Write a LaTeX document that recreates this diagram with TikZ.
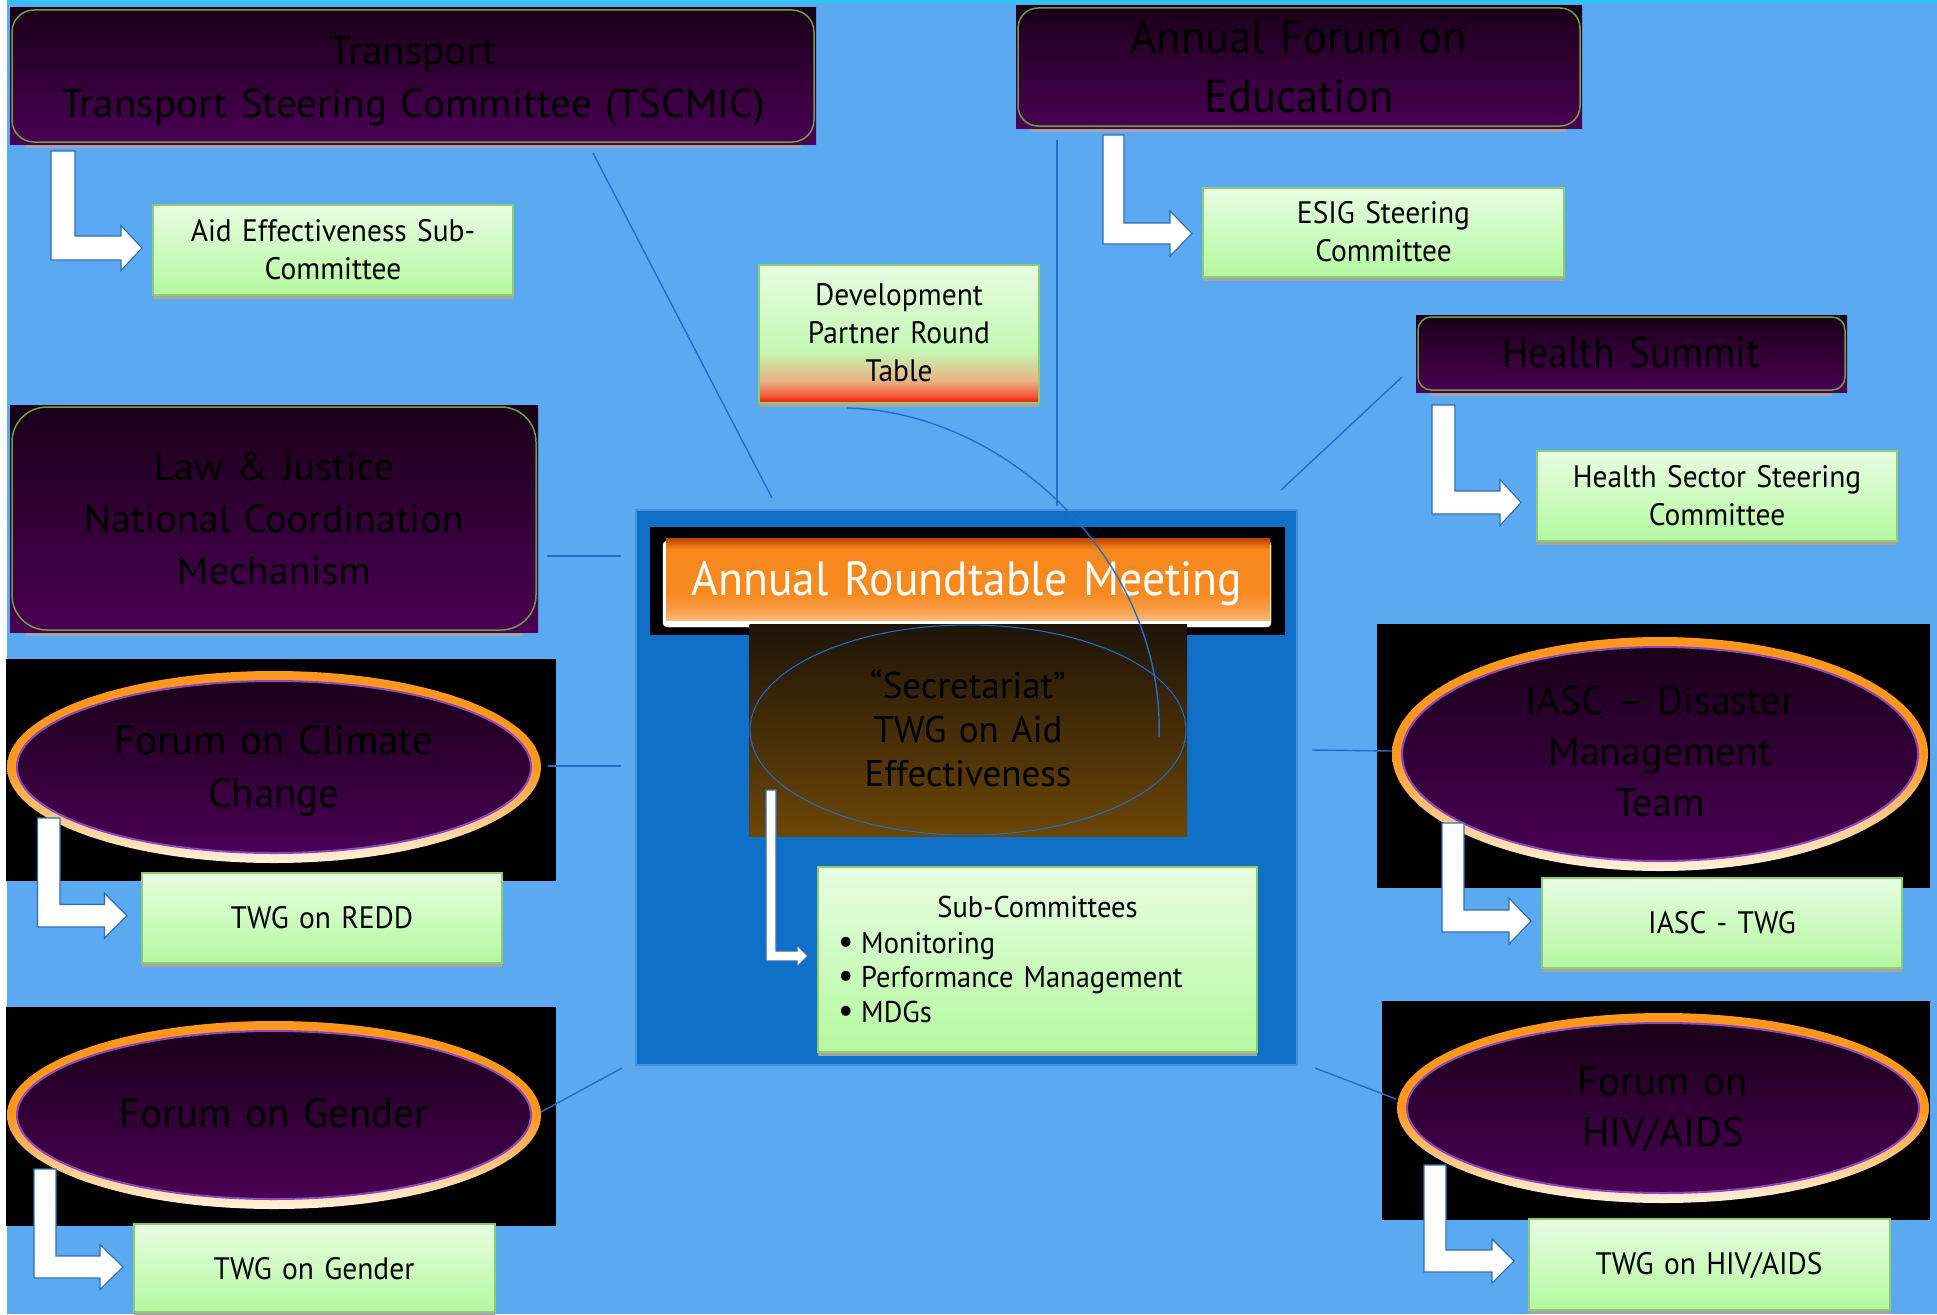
\documentclass[tikz,border=0pt]{standalone}
\usepackage{fontspec}
\setmainfont{PT Sans}
\newfontfamily\nar{PT Sans}[FakeStretch=0.95]
\newfontfamily\narr{PT Sans}[FakeStretch=0.92]
\newfontfamily\wid{PT Sans}[FakeStretch=1.03]
\usetikzlibrary{shapes.geometric}

\definecolor{bgblue}{RGB}{91,169,240}
\definecolor{topstrip}{RGB}{40,200,245}
\definecolor{panelblue}{RGB}{16,111,198}
\definecolor{paneledge}{RGB}{70,145,220}
\definecolor{purpT}{RGB}{26,0,24}
\definecolor{purpB}{RGB}{74,0,84}
\definecolor{pedge}{RGB}{112,160,64}
\definecolor{greenT}{RGB}{232,253,226}
\definecolor{greenB}{RGB}{180,248,160}
\definecolor{gedge}{RGB}{140,205,110}
\definecolor{shadowgray}{RGB}{165,165,165}
\definecolor{linkblue}{RGB}{32,110,200}
\definecolor{arrowedge}{RGB}{46,110,180}
\definecolor{glowO}{RGB}{255,150,30}
\definecolor{glowW}{RGB}{255,242,220}
\definecolor{ringpurple}{RGB}{140,70,190}
\definecolor{brownT}{RGB}{30,20,8}
\definecolor{brownB}{RGB}{108,70,8}
\definecolor{devR}{RGB}{242,22,6}
\definecolor{devR2}{RGB}{240,95,60}
\definecolor{devT}{RGB}{232,178,132}
\definecolor{devG}{RGB}{196,248,180}
\definecolor{btnL}{RGB}{250,185,120}
\definecolor{btnM}{RGB}{248,155,70}
\definecolor{btnO}{RGB}{247,137,31}
\definecolor{btnD}{RGB}{215,95,10}
\definecolor{btnDD}{RGB}{185,68,0}

\pgfdeclareverticalshading{devshade}{100bp}{color(0bp)=(devR); color(25bp)=(devR); color(28bp)=(devR2); color(33bp)=(devT); color(44bp)=(devG); color(75bp)=(greenT); color(100bp)=(greenT)}
\pgfdeclareverticalshading{btnshade}{100bp}{color(0bp)=(btnL); color(25bp)=(btnL); color(32bp)=(btnM); color(42bp)=(btnO); color(68bp)=(btnO); color(72bp)=(btnD); color(75bp)=(btnDD); color(100bp)=(btnDD)}

\newcommand\fs[2]{\fontsize{#1}{#2}\selectfont}

\tikzset{
  purplebox/.style={top color=purpT, bottom color=purpB},
  greenbox/.style={top color=greenT, bottom color=greenB, draw=gedge, line width=1.2},
  devbox/.style={shading=devshade, draw=gedge, line width=1.2},
  txt/.style={anchor=base, inner sep=0, align=center},
  link/.style={draw=linkblue, line width=1.4},
  bentarrow/.style={fill=white, draw=arrowedge, line width=1.1, line join=miter},
}

% generic rectangle node from corners
\newcommand\RNode[6]{%
  \node[#1, rectangle, inner sep=0, outer sep=0, minimum width={#5-#3}, minimum height={#6-#4}] (#2) at ({(#3+#5)/2},{(#4+#6)/2}) {};}
% purple rounded box: name x1 y1 x2 y2 radius
\newcommand\PBox[6]{%
  \fill[shadowgray] ({#2+15},#5) rectangle ({#4-15},{#5+4});
  \RNode{purplebox}{#1}{#2}{#3}{#4}{#5}
  \draw[pedge, line width=1.5, rounded corners=#6] ([shift={(2,2)}]#1.north west) rectangle ([shift={(-2,-2)}]#1.south east);}
% green box: name x1 y1 x2 y2
\newcommand\GBox[5]{%
  \fill[shadowgray] (#2,#5) rectangle (#4,{#5+4});
  \RNode{greenbox}{#1}{#2}{#3}{#4}{#5}}
% ellipse group: name bx1 by1 bx2 by2 cx cy rx ry
\newcommand\EGroup[9]{%
  \RNode{fill=black}{#1-bg}{#2}{#3}{#4}{#5}
  \node[ellipse, inner sep=0, minimum width={2*#8}, minimum height={2*#9}, top color=glowO, bottom color=glowW, middle color=glowO] (#1-glow) at (#6,#7) {};
  \node[ellipse, inner sep=0, minimum width={2*#8-20}, minimum height={2*#9-20}, top color=purpT, bottom color=purpB, draw=ringpurple, line width=2] (#1) at (#6,#7) {};}
% bent arrow: xl w ytop ybottom xhead halfhead xtip
\newcommand\BArrow[7]{%
  \draw[bentarrow] (#1,#3) -- ({#1+#2},#3) -- ({#1+#2},{#4-#2}) -- (#5,{#4-#2}) -- (#5,{#4-#2/2-#6}) -- (#7,{#4-#2/2}) -- (#5,{#4-#2/2+#6}) -- (#5,#4) -- (#1,#4) -- cycle;}

\begin{document}
\begin{tikzpicture}[x=1pt,y=-1pt]
\useasboundingbox (0,0) rectangle (1937,1314);
\fill[bgblue] (0,0) rectangle (1937,1314);
\fill[topstrip] (0,0) rectangle (1937,3);
\fill[white] (0,0) rectangle (6.5,1314);

% central panel
\RNode{fill=panelblue, draw=paneledge, line width=1.5}{panel}{636}{510}{1297}{1065}
\RNode{fill=black}{armbg}{650}{527}{1285}{635}
\draw[white, fill=white, rounded corners=4] (663,541) rectangle (1271,627);
\RNode{shading=btnshade}{arm}{666}{538}{1270}{620}
\RNode{top color=brownT, bottom color=brownB}{secbg}{749.5}{624}{1187}{836}
\node[ellipse, inner sep=0, minimum width=436, minimum height=210, draw=linkblue, line width=1] (sec) at (968,730) {};
\fill[shadowgray] (818,1052) rectangle (1257,1056);
\RNode{greenbox}{sub}{818}{867}{1257}{1052}

% purple boxes
\PBox{transport}{10}{8}{816}{144}{22}
\PBox{edu}{1016}{6}{1582}{128}{20}
\PBox{law}{10}{405}{538}{632}{35}
\PBox{health}{1416}{315}{1847}{392}{13}

% green boxes
\GBox{aid}{153}{205}{513}{295}
\GBox{esig}{1203}{188}{1564}{277}
\fill[shadowgray] (759,403) rectangle (1039,407);
\RNode{devbox}{dev}{759}{265}{1039}{403}
\GBox{hssc}{1537}{451}{1897}{541}

% ellipse groups
\EGroup{climate}{6}{659}{556}{881}{274}{767}{267}{96}
\EGroup{gender}{6}{1007}{556}{1226}{274}{1115}{267}{94}
\EGroup{iasc}{1377}{624}{1930}{888}{1660}{754}{268}{117}
\EGroup{hiv}{1382}{1001}{1930}{1220}{1663}{1108}{266}{95}

\GBox{redd}{142}{873}{502}{963}
\GBox{twgg}{134}{1224}{495}{1312}
\GBox{iasctwg}{1542}{878}{1902}{968}
\GBox{hivtwg}{1529}{1219}{1890}{1310}

% bent arrows
\BArrow{51}{24}{151}{260}{121}{22.5}{142}
\BArrow{1103}{21}{135}{244}{1170}{22.5}{1192}
\BArrow{1432}{23}{405}{514}{1500}{23}{1521}
\BArrow{37.5}{22.5}{818}{927}{104.5}{22.5}{127}
\BArrow{34}{22}{1169}{1278}{100}{22.5}{123}
\BArrow{1442}{22}{823}{932}{1509}{23}{1531}
\BArrow{1424}{22}{1165}{1272}{1492}{22}{1514}
\BArrow{766}{10}{790}{961}{797}{11}{808}

% links
\coordinate (t-a) at (593,153);  \coordinate (t-b) at (772,498);
\coordinate (e-a) at (1057,140); \coordinate (e-b) at (1057,506);
\coordinate (h-a) at (1402,377); \coordinate (h-b) at (1281,490);
\coordinate (l-a) at (547,556);  \coordinate (l-b) at (621,556);
\coordinate (c-a) at (548,766);  \coordinate (c-b) at (621,766);
\coordinate (g-a) at (541,1112); \coordinate (g-b) at (622,1068);
\coordinate (i-a) at (1312,750); \coordinate (i-b) at (1392,751);
\coordinate (v-a) at (1315,1068); \coordinate (v-b) at (1396,1099);
\coordinate (d-a) at (847,408);  \coordinate (d-b) at (1159,737);
\draw[link] (t-a) -- (t-b);
\draw[link] (e-a) -- (e-b);
\draw[link] (h-a) -- (h-b);
\draw[link] (l-a) -- (l-b);
\draw[link] (c-a) -- (c-b);
\draw[link] (g-a) -- (g-b);
\draw[link] (i-a) -- (i-b);
\draw[link] (v-a) -- (v-b);

% texts
\node[txt, text width=800, font=\wid\fs{40}{52}] (transport-t) at (413,65) {Transport\\Transport Steering Committee (TSCMIC)};
\node[txt, text width=560, font=\nar\fs{47}{59}] (edu-t) at (1299,53) {Annual Forum on\\Education};
\node[txt, text width=520, font=\wid\fs{39}{52}] (law-t) at (274,480) {Law \& Justice\\National Coordination\\Mechanism};
\node[txt, text width=420, font=\narr\fs{43}{52}] (health-t) at (1631,367) {Health Summit};
\node[txt, text width=500, font=\fs{41}{53}] (climate-t) at (274,754) {Forum on Climate\\Change};
\node[txt, text width=500, font=\fs{41}{53}] (gender-t) at (274,1127) {Forum on Gender};
\node[txt, text width=500, font=\fs{40}{51}] (iasc-t) at (1660,714) {IASC – Disaster\\Management\\Team};
\node[txt, text width=500, font=\fs{41}{51.5}] (hiv-t) at (1663,1095) {Forum on\\HIV/AIDS};
\node[txt, text width=600, font=\nar\fs{48}{58}, text=white] (arm-t) at (967,595) {Annual Roundtable Meeting};
\node[txt, text width=420, font=\fs{37}{44}] (sec-t) at (968,698) {“Secretariat”\\TWG on Aid\\Effectiveness};
\node[txt, text width=350, font=\nar\fs{31}{38}] (aid-t) at (333,241) {Aid Effectiveness Sub-\\Committee};
\node[txt, text width=350, font=\nar\fs{31}{38}] (esig-t) at (1383.5,223) {ESIG Steering\\Committee};
\node[txt, text width=270, font=\nar\fs{31}{38}] (dev-t) at (899,305) {Development\\Partner Round\\Table};
\node[txt, text width=350, font=\nar\fs{31}{38}] (hssc-t) at (1717,487) {Health Sector Steering\\Committee};
\node[txt, text width=350, font=\nar\fs{31}{38}] (redd-t) at (322,928) {TWG on REDD};
\node[txt, text width=350, font=\nar\fs{31}{38}] (twgg-t) at (314,1279) {TWG on Gender};
\node[txt, text width=350, font=\nar\fs{31}{38}] (iasctwg-t) at (1722,933) {IASC - TWG};
\node[txt, text width=350, font=\nar\fs{31}{38}] (hivtwg-t) at (1709,1274) {TWG on HIV/AIDS};
\node[txt, text width=420, font=\nar\fs{30}{34.5}] (sub-t) at (1037.5,917) {Sub-Committees};
\node[anchor=base west, inner sep=0, text width=420, align=left, font=\nar\fs{30}{34.5}] (sub-items) at (838,953) {\makebox[23pt][l]{\fs{36}{34.5}•}Monitoring\\\makebox[23pt][l]{\fs{36}{34.5}•}Performance Management\\\makebox[23pt][l]{\fs{36}{34.5}•}MDGs};

% curve from the round table
\draw[link] (d-a) .. controls (1010,412) and (1165,565) .. (d-b);
\end{tikzpicture}
\end{document}
